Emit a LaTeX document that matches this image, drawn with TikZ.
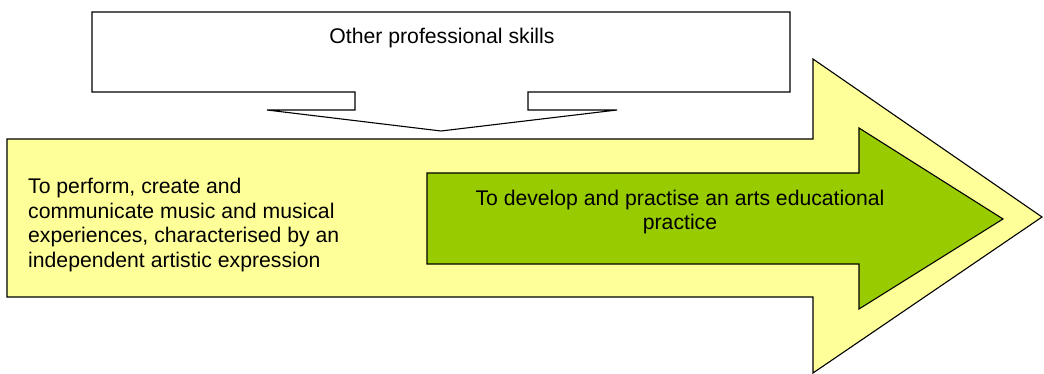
\documentclass[tikz,border=0pt]{standalone}
\usepackage{fontspec}
\setmainfont{Liberation Sans}
\definecolor{lightyellow}{HTML}{FFFF99}
\definecolor{leafgreen}{HTML}{99CC00}
\begin{document}
\begin{tikzpicture}[x=1pt,y=-1pt,
  shapeline/.style={draw=black,line width=1.1pt,line join=miter},
  txt/.style={inner sep=0pt,font=\fontsize{21.2}{24.8}\selectfont}]
\useasboundingbox (0,0) rectangle (1044,374);
% big yellow arrow
\path[shapeline,fill=lightyellow] (7,139) -- (813,139) -- (813,59) -- (1042,217) -- (813,373) -- (813,297) -- (7,297) -- cycle;
% green arrow
\path[shapeline,fill=leafgreen] (427,173) -- (859,173) -- (859,128) -- (1003,219) -- (859,309) -- (859,264) -- (427,264) -- cycle;
% callout
\path[shapeline,fill=white] (92,12) -- (790,12) -- (790,92) -- (528,92) -- (528,110) -- (617,110) -- (441,131) -- (267,110) -- (355,110) -- (355,92) -- (92,92) -- cycle;
% texts
\node[txt] (skills) at (442,38) {Other professional skills};
\node[txt,anchor=west,align=left] (perform) at (28,225) {To perform, create and\\communicate music and musical\\experiences, characterised by an\\independent artistic expression};
\node[txt,align=center] (develop) at (680,212) {To develop and practise an arts educational\\practice};
\end{tikzpicture}
\end{document}
